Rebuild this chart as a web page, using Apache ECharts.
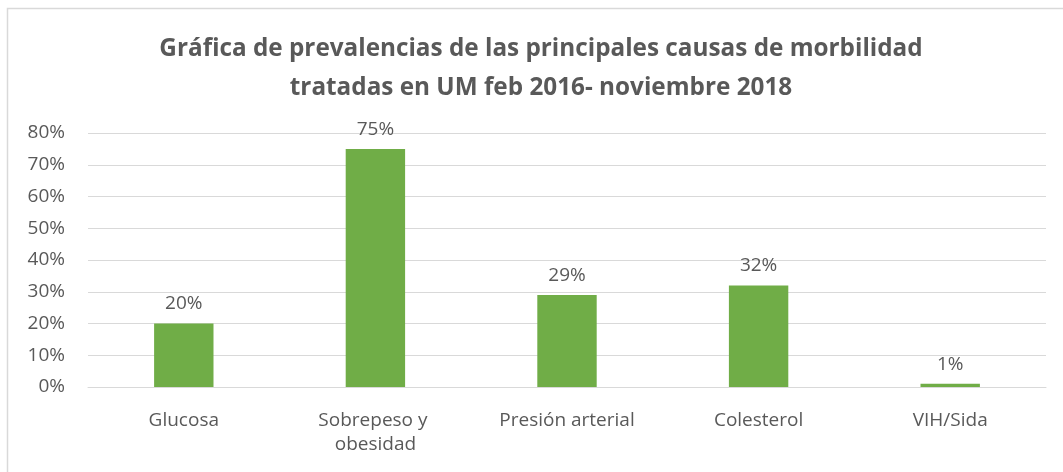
<!DOCTYPE html>
<html>
<head>
<meta charset="utf-8">
<script src="https://cdn.jsdelivr.net/npm/echarts@6/dist/echarts.min.js"></script>
<style>
  html, body { margin: 0; padding: 0; background: #fff; }
  #chart { width: 1063px; height: 472px; }
</style>
</head>
<body>
<div id="chart"></div>
<script>
// datos
const categorias = ["Glucosa", "Sobrepeso y obesidad", "Presión arterial", "Colesterol", "VIH/Sida"];
const prevalencias = [20, 75, 29, 32, 1];
const titulo = "Gráfica de prevalencias de las principales causas de morbilidad\ntratadas en UM feb 2016- noviembre 2018";

const chart = echarts.init(document.getElementById("chart"));
const gris = "#595959";
const fuente = "Open Sans";

const option = {
  animation: false,
  title: {
    text: titulo,
    left: 536,
    top: 25,
    textAlign: "center",
    textStyle: {
      fontFamily: fuente,
      fontSize: 24.3,
      fontWeight: "bold",
      color: gris,
      lineHeight: 39,
    },
  },
  graphic: [
    {
      type: "rect",
      shape: { x: 7.5, y: 8.5, width: 1100, height: 500 },
      style: { fill: "none", stroke: "#d9d9d9", lineWidth: 1.5 },
      silent: true,
    },
  ],
  grid: { left: 88, right: 17, top: 133, bottom: 85 },
  xAxis: {
    type: "category",
    data: categorias,
    axisLine: { lineStyle: { color: "#d9d9d9", width: 1 } },
    axisTick: { show: false },
    axisLabel: {
      color: gris,
      fontFamily: fuente,
      fontSize: 19,
      lineHeight: 24,
      margin: 22,
      width: 150,
      overflow: "break",
      interval: 0,
    },
  },
  yAxis: {
    type: "value",
    min: 0,
    max: 80,
    interval: 10,
    axisLine: { show: false },
    axisTick: { show: false },
    splitLine: { lineStyle: { color: "#d9d9d9", width: 1 } },
    axisLabel: {
      color: gris,
      fontFamily: fuente,
      fontSize: 19,
      margin: 23,
      formatter: "{value}%",
    },
  },
  series: [
    {
      type: "bar",
      data: prevalencias,
      barWidth: "31%",
      itemStyle: { color: "#70ad47" },
      label: {
        show: true,
        position: "top",
        distance: 10,
        color: gris,
        fontFamily: fuente,
        fontSize: 19,
        formatter: "{c}%",
      },
    },
  ],
};

chart.setOption(option);
window.addEventListener("resize", () => chart.resize());
</script>
</body>
</html>
